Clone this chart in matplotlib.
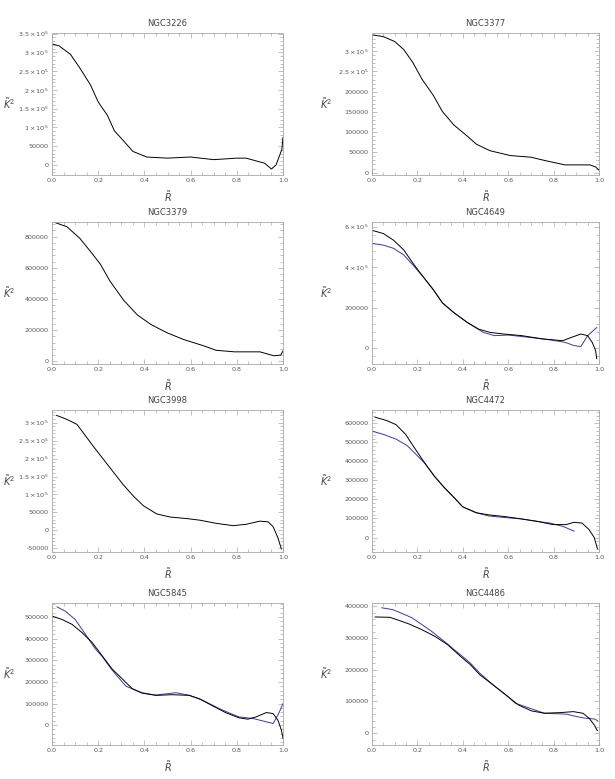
import matplotlib
matplotlib.use("Agg")
import matplotlib.pyplot as plt
from matplotlib.ticker import FixedLocator, AutoMinorLocator

# ---------------- data ----------------
titles = ["NGC3226", "NGC3377", "NGC3379", "NGC4649",
          "NGC3998", "NGC4472", "NGC5845", "NGC4486"]

# NGC3226
r1_k = [0.0, 0.03, 0.08, 0.12, 0.166, 0.2, 0.24, 0.27, 0.31, 0.35, 0.41, 0.5, 0.6, 0.7, 0.8, 0.84, 0.92, 0.95, 0.97, 0.995, 1.0]
k1_k = [322700, 318000, 295000, 259000, 214000, 168000, 132000, 91000, 64000, 36000, 21000, 18000, 21000, 14000, 18000, 18000, 4500, -11000, 0, 41000, 73000]

# NGC3377
r2_k = [0.007, 0.05, 0.1, 0.14, 0.18, 0.22, 0.27, 0.31, 0.36, 0.42, 0.46, 0.52, 0.61, 0.7, 0.76, 0.85, 0.96, 0.985, 1.0]
k2_k = [340000, 336000, 324000, 304000, 272000, 231000, 191000, 151000, 118000, 90000, 70000, 54000, 42000, 38000, 30000, 19000, 19000, 14000, 6000]

# NGC3379
r3_k = [0.007, 0.065, 0.12, 0.166, 0.21, 0.25, 0.31, 0.37, 0.43, 0.5, 0.57, 0.66, 0.71, 0.79, 0.9, 0.96, 0.99, 1.0]
k3_k = [894000, 863000, 790000, 706000, 622000, 517000, 392000, 297000, 235000, 182000, 140000, 98000, 71000, 61000, 61000, 36000, 40000, 67000]

# NGC4649
r4_k = [0.0, 0.05, 0.095, 0.14, 0.18, 0.23, 0.27, 0.31, 0.36, 0.42, 0.47, 0.52, 0.58, 0.66, 0.75, 0.84, 0.88, 0.92, 0.95, 0.97, 0.985, 0.99]
k4_k = [582000, 566000, 533000, 485000, 420000, 346000, 289000, 224000, 176000, 127000, 94000, 78000, 70000, 62000, 46000, 37000, 54000, 70000, 62000, 29000, -11000, -52000]
r4_b = [0.0, 0.05, 0.095, 0.14, 0.18, 0.23, 0.27, 0.31, 0.36, 0.42, 0.49, 0.54, 0.6, 0.69, 0.78, 0.85, 0.89, 0.92, 0.95, 0.99]
k4_b = [517000, 509000, 493000, 460000, 411000, 346000, 289000, 224000, 176000, 127000, 78000, 62000, 65000, 54000, 42000, 29000, 13000, 8000, 62000, 102000]

# NGC3998
r5_k = [0.02, 0.065, 0.108, 0.144, 0.18, 0.223, 0.266, 0.31, 0.353, 0.396, 0.453, 0.51, 0.583, 0.64, 0.712, 0.784, 0.84, 0.9, 0.935, 0.957, 0.978, 0.993]
k5_k = [320000, 308700, 295000, 264000, 233000, 197500, 162000, 126000, 95000, 68500, 46000, 37400, 33000, 28500, 19600, 13300, 17000, 25800, 24000, 10700, -20500, -51600]

# NGC4472
r6_k = [0.014, 0.064, 0.106, 0.148, 0.19, 0.233, 0.275, 0.318, 0.36, 0.4, 0.46, 0.515, 0.586, 0.657, 0.727, 0.798, 0.855, 0.89, 0.925, 0.956, 0.979, 0.993]
k6_k = [632000, 615000, 593000, 542000, 466000, 390000, 322000, 263000, 212000, 161000, 130000, 119000, 110000, 98000, 85000, 68000, 68000, 80000, 76000, 42000, 0, -59000]
r6_b = [0.0, 0.05, 0.106, 0.155, 0.198, 0.233, 0.275, 0.318, 0.36, 0.4, 0.46, 0.515, 0.586, 0.657, 0.727, 0.784, 0.84, 0.89]
k6_b = [559000, 542000, 517000, 483000, 432000, 390000, 322000, 263000, 212000, 161000, 130000, 113000, 105000, 98000, 85000, 76000, 59000, 34000]

# NGC5845
r7_k = [0.0, 0.043, 0.087, 0.13, 0.174, 0.217, 0.26, 0.304, 0.348, 0.39, 0.449, 0.52, 0.594, 0.638, 0.696, 0.754, 0.81, 0.848, 0.884, 0.928, 0.957, 0.978, 0.993, 1.0]
k7_k = [504600, 489000, 466000, 428000, 382000, 321000, 260000, 214000, 168000, 148000, 137600, 140700, 137600, 122000, 88700, 56600, 33600, 27500, 38200, 58100, 53500, 23000, -23000, -61000]
r7_b = [0.022, 0.058, 0.1, 0.145, 0.188, 0.217, 0.26, 0.32, 0.39, 0.449, 0.536, 0.594, 0.652, 0.725, 0.783, 0.81, 0.87, 0.928, 0.957, 0.978, 1.0]
k7_b = [547000, 527000, 489000, 420000, 352000, 318000, 255000, 180000, 150000, 139000, 150000, 138000, 115000, 76000, 49000, 38000, 30600, 15300, 7600, 46000, 99400]

# NGC4486
r8_k = [0.014, 0.078, 0.12, 0.163, 0.22, 0.277, 0.333, 0.39, 0.433, 0.475, 0.532, 0.589, 0.645, 0.702, 0.759, 0.83, 0.887, 0.929, 0.957, 0.979, 0.993]
k8_k = [366000, 365000, 355000, 344000, 326000, 305000, 279000, 242000, 216000, 184000, 153000, 121000, 89000, 70500, 63000, 65000, 68000, 63000, 47000, 26000, 8000]
r8_b = [0.043, 0.092, 0.149, 0.177, 0.22, 0.262, 0.319, 0.362, 0.39, 0.433, 0.475, 0.532, 0.589, 0.631, 0.674, 0.759, 0.858, 0.9, 0.943, 0.979, 0.993]
k8_b = [395000, 389000, 372000, 363000, 342000, 321000, 289000, 263000, 247000, 221000, 189000, 153000, 121000, 94700, 84000, 63000, 60000, 52600, 47000, 45000, 40000]

# y tick values and labels per panel
yt1 = [0, 50000, 100000, 150000, 200000, 250000, 300000, 350000]
yl1 = ["0", "50000", r"$1\times10^{5}$", r"$1.5\times10^{5}$", r"$2\times10^{5}$",
       r"$2.5\times10^{5}$", r"$3\times10^{5}$", r"$3.5\times10^{5}$"]
yt2 = [0, 50000, 100000, 150000, 200000, 250000, 300000]
yl2 = ["0", "50000", "100000", "150000", "200000", r"$2.5\times10^{5}$", r"$3\times10^{5}$"]
yt3 = [0, 200000, 400000, 600000, 800000]
yl3 = ["0", "200000", "400000", "600000", "800000"]
yt4 = [0, 200000, 400000, 600000]
yl4 = ["0", "200000", r"$4\times10^{5}$", r"$6\times10^{5}$"]
yt5 = [-50000, 0, 50000, 100000, 150000, 200000, 250000, 300000]
yl5 = ["-50000", "0", "50000", r"$1\times10^{5}$", r"$1.5\times10^{5}$",
       r"$2\times10^{5}$", r"$2.5\times10^{5}$", r"$3\times10^{5}$"]
yt6 = [0, 100000, 200000, 300000, 400000, 500000, 600000]
yl6 = ["0", "100000", "200000", "300000", "400000", "500000", "600000"]
yt7 = [0, 100000, 200000, 300000, 400000, 500000]
yl7 = ["0", "100000", "200000", "300000", "400000", "500000"]
yt8 = [0, 100000, 200000, 300000, 400000]
yl8 = ["0", "100000", "200000", "300000", "400000"]

xt = [0.0, 0.2, 0.4, 0.6, 0.8, 1.0]
xl = ["0.0", "0.2", "0.4", "0.6", "0.8", "1.0"]

ylims = [(-27000, 352000), (-6000, 345000), (-17000, 894000), (-78000, 623000),
         (-60000, 335000), (-76000, 670000), (-92000, 565000), (-37000, 410000)]

panels = [
    ([(r1_k, k1_k)], [], yt1, yl1),
    ([(r2_k, k2_k)], [], yt2, yl2),
    ([(r3_k, k3_k)], [], yt3, yl3),
    ([(r4_k, k4_k)], [(r4_b, k4_b)], yt4, yl4),
    ([(r5_k, k5_k)], [], yt5, yl5),
    ([(r6_k, k6_k)], [(r6_b, k6_b)], yt6, yl6),
    ([(r7_k, k7_k)], [(r7_b, k7_b)], yt7, yl7),
    ([(r8_k, k8_k)], [(r8_b, k8_b)], yt8, yl8),
]

# ---------------- figure ----------------
W, H = 615, 779
fig = plt.figure(figsize=(W / 100, H / 100), dpi=100)
fig.patch.set_facecolor("white")

col_x = [(52, 283), (372, 599)]
ylabel_x = [9, 326]
row_top = [33, 222, 410, 603]
ah = 142

frame_col = "#a8a8a8"
for i, (blacks, blues, yt, yl) in enumerate(panels):
    r, c = divmod(i, 2)
    x0, x1 = col_x[c]
    top = row_top[r]
    ax = fig.add_axes([x0 / W, 1 - (top + ah) / H, (x1 - x0) / W, ah / H])
    for (xs, ys) in blues:
        ax.plot(xs, ys, color="#3a3aa8", lw=0.7)
    for (xs, ys) in blacks:
        ax.plot(xs, ys, color="black", lw=0.7)
    ax.set_xlim(0, 1.0)
    ax.set_ylim(*ylims[i])
    ax.xaxis.set_major_locator(FixedLocator(xt))
    ax.set_xticklabels(xl)
    ax.yaxis.set_major_locator(FixedLocator(yt))
    ax.set_yticklabels(yl)
    ax.xaxis.set_minor_locator(AutoMinorLocator(4))
    ax.yaxis.set_minor_locator(AutoMinorLocator(5))
    ax.tick_params(which="both", direction="in", top=True, right=True,
                   colors=frame_col, labelcolor="#555555", labelsize=4.6, width=0.5,
                   pad=2.5)
    ax.tick_params(which="major", length=3.5)
    ax.tick_params(which="minor", length=2)
    for s in ax.spines.values():
        s.set_color(frame_col)
        s.set_linewidth(0.6)
    ax.set_title(titles[i], fontsize=6, color="#444444", pad=5)
    ax.set_xlabel(r"$\tilde{R}$", fontsize=7, color="#444444", labelpad=4)
    ax.set_ylabel(r"$\tilde{K}^{2}$", fontsize=7, color="#444444", rotation=0,
                  ha="center", va="center")
    ax.yaxis.set_label_coords((ylabel_x[c] - x0) / (x1 - x0), 0.5)

fig.savefig("out.png", dpi=100, facecolor="white")
